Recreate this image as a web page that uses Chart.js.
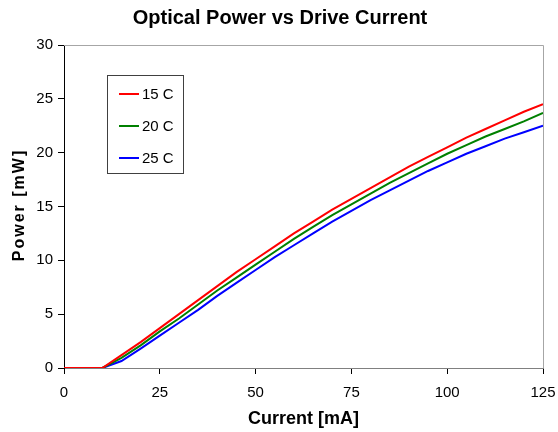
<!DOCTYPE html>
<html>
<head>
<meta charset="utf-8">
<script src="https://cdn.jsdelivr.net/npm/chart.js@4.4.0/dist/chart.umd.min.js"></script>
<style>
  html, body { margin: 0; padding: 0; background: #fff; }
  #wrap { width: 558px; height: 432px; }
</style>
</head>
<body>
<div id="wrap"><canvas id="chart" width="558" height="432"></canvas></div>
<script>
// drive current, mA
const currentMA = [0, 5, 10, 15, 20, 25, 30, 35, 40, 45, 50, 55, 60, 65, 70, 75, 80, 85, 90, 95, 100, 105, 110, 115, 120, 125];

// optical power, mW
const power15C = [0, 0, 0, 1.2, 2.4, 3.7, 5.0, 6.3, 7.6, 8.9, 10.1, 11.3, 12.5, 13.6, 14.7, 15.7, 16.7, 17.7, 18.7, 19.6, 20.5, 21.4, 22.2, 23.0, 23.8, 24.5];
const power20C = [0, 0, 0, 0.95, 2.1, 3.4, 4.6, 5.9, 7.2, 8.4, 9.6, 10.8, 12.0, 13.1, 14.2, 15.2, 16.2, 17.2, 18.1, 19.0, 19.9, 20.7, 21.5, 22.2, 22.9, 23.7];
const power25C = [0, 0, 0, 0.65, 1.8, 3.0, 4.2, 5.4, 6.7, 7.9, 9.1, 10.3, 11.4, 12.5, 13.6, 14.6, 15.6, 16.5, 17.4, 18.3, 19.1, 19.9, 20.6, 21.3, 21.9, 22.5];

const seriesLabels = ['15 C', '20 C', '25 C'];
const seriesColors = ['#ff0000', '#008000', '#0000ff'];

const xTicks = [0, 25, 50, 75, 100, 125];
const yTicks = [0, 5, 10, 15, 20, 25, 30];

const FONT = "'Liberation Sans', Arial, sans-serif";

const toPoints = ys => ys.map((y, i) => ({ x: currentMA[i], y }));

// title, frame, y title and boxed legend, drawn Excel-style
const decorations = {
  id: 'decorations',
  afterDraw(chart) {
    const { ctx, chartArea: a } = chart;
    ctx.save();

    // top + right frame
    ctx.strokeStyle = '#a6a6a6';
    ctx.lineWidth = 1;
    ctx.beginPath();
    ctx.moveTo(a.left, a.top + 0.5);
    ctx.lineTo(a.right + 0.5, a.top + 0.5);
    ctx.lineTo(a.right + 0.5, a.bottom);
    ctx.stroke();

    // title
    ctx.fillStyle = '#000';
    ctx.font = `bold 20px ${FONT}`;
    ctx.textAlign = 'center';
    ctx.textBaseline = 'middle';
    ctx.fillText('Optical Power vs Drive Current', 280, 18);

    // y axis title, letter-spaced
    ctx.save();
    ctx.translate(20, 205);
    ctx.rotate(-Math.PI / 2);
    ctx.font = `bold 16px ${FONT}`;
    ctx.letterSpacing = '2px';
    ctx.fillText('Power [mW]', 0, 0);
    ctx.restore();

    // legend box
    const bx = 107.5, by = 75.5, bw = 76, bh = 98;
    ctx.strokeStyle = '#404040';
    ctx.strokeRect(bx, by, bw, bh);
    ctx.font = `15px ${FONT}`;
    ctx.textAlign = 'left';
    chart.data.datasets.forEach((ds, i) => {
      const ry = 94 + i * 32;
      ctx.strokeStyle = ds.borderColor;
      ctx.lineWidth = 2;
      ctx.beginPath();
      ctx.moveTo(119, ry);
      ctx.lineTo(139, ry);
      ctx.stroke();
      ctx.fillStyle = '#000';
      ctx.fillText(ds.label, 142, ry + 1);
    });

    ctx.restore();
  }
};

new Chart(document.getElementById('chart'), {
  type: 'line',
  data: {
    datasets: [power15C, power20C, power25C].map((ys, i) => ({
      label: seriesLabels[i],
      data: toPoints(ys),
      borderColor: seriesColors[i],
      backgroundColor: seriesColors[i],
      borderWidth: 2,
      pointRadius: 0,
      tension: 0,
      fill: false
    }))
  },
  options: {
    responsive: false,
    animation: false,
    layout: { padding: { left: 0, right: 15, top: 45, bottom: 0 } },
    plugins: {
      legend: { display: false },
      title: { display: false },
      tooltip: { enabled: false }
    },
    scales: {
      x: {
        type: 'linear',
        min: 0,
        max: 125,
        afterFit: s => { s.height = 64; s.paddingRight = 0; },
        afterBuildTicks: s => { s.ticks = xTicks.map(v => ({ value: v })); },
        grid: { drawOnChartArea: false, tickLength: 6, color: '#000' },
        border: { color: '#808080', width: 1 },
        ticks: { color: '#000', font: { family: FONT, size: 15 }, padding: 10, maxRotation: 0 },
        title: {
          display: true,
          text: 'Current [mA]',
          color: '#000',
          font: { family: FONT, size: 18, weight: 'bold' },
          padding: { top: 0, bottom: 2 }
        }
      },
      y: {
        type: 'linear',
        min: 0,
        max: 30,
        afterFit: s => { s.width = 64; },
        afterBuildTicks: s => { s.ticks = yTicks.map(v => ({ value: v })); },
        grid: { drawOnChartArea: false, tickLength: 6, color: '#000' },
        border: { color: '#000', width: 1 },
        ticks: { color: '#000', font: { family: FONT, size: 15 }, padding: 5 }
      }
    }
  },
  plugins: [decorations]
});
</script>
</body>
</html>
